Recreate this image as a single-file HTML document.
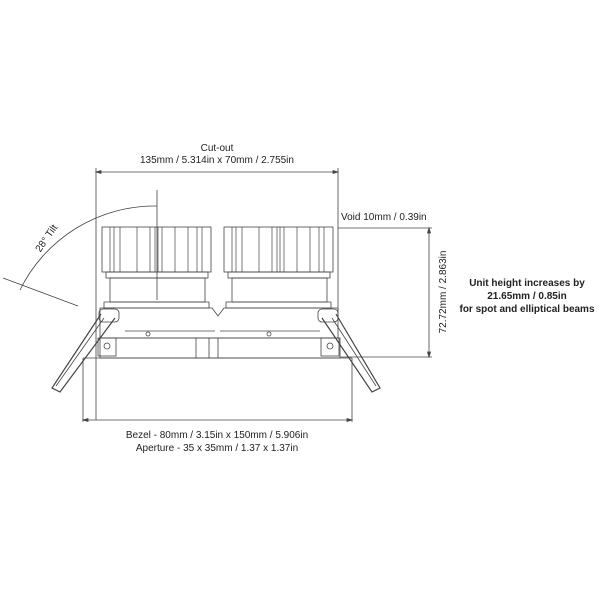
<!DOCTYPE html><html><head><style>body{margin:0;background:#fff}svg{display:block}text{font-family:"Liberation Sans",sans-serif;fill:#222}</style></head><body>
<svg width="600" height="600" viewBox="0 0 600 600" xmlns="http://www.w3.org/2000/svg">
<g stroke="#444" stroke-width="0.8" fill="none">
<line x1="96" y1="172" x2="338" y2="172"/><line x1="96" y1="168" x2="96" y2="420"/><line x1="338" y1="168" x2="338" y2="310"/>
<path d="M96 172l5-1.5v3z M338 172l-5-1.5v3z" fill="#444"/>
<line x1="338" y1="228" x2="432" y2="228"/><line x1="340" y1="357" x2="432" y2="357"/>
<line x1="429" y1="228" x2="429" y2="357"/>
<path d="M429 228l-1.5 5h3z M429 357l-1.5-5h3z" fill="#444"/>
<line x1="157" y1="190" x2="157" y2="300"/>
<path d="M157 206 A150 150 0 0 0 20 290"/>
<line x1="3" y1="278" x2="78" y2="306"/>
<line x1="83" y1="358" x2="83" y2="422"/><line x1="352" y1="358" x2="352" y2="422"/>
<line x1="83" y1="420" x2="352" y2="420"/>
<path d="M83 420l5-1.5v3z M352 420l-5-1.5v3z" fill="#444"/>
<g id="h">
<rect x="102" y="227" width="109" height="45"/>
<path d="M110 227v45M114 227v45M120 227v45M137 227v45M150 227v45M155 227v45M158 227v45M162 227v45M175 227v45M188 227v45M197 227v45M202 227v45" stroke-width="0.7"/>
<rect x="106" y="272" width="102" height="6"/>
<rect x="110" y="278" width="95" height="24"/>
<path d="M104 302h105v6H104z"/>
</g>
<use href="#h" transform="translate(122,0)"/>
<path d="M100 308h112l6 8 6-8h114v30H100z"/>
<rect x="100" y="338" width="240" height="20"/>
<line x1="83" y1="358" x2="352" y2="358"/>
<path d="M196 338v20M209 338v20M218 338v20"/>
<line x1="125" y1="331" x2="215" y2="331"/><line x1="220" y1="331" x2="320" y2="331"/>
<circle cx="148" cy="334" r="2"/><circle cx="269" cy="334" r="2"/>
<rect x="98" y="338" width="18" height="18"/><rect x="321" y="338" width="18" height="18"/>
<circle cx="107" cy="346" r="3"/><circle cx="330" cy="346" r="3"/>
<rect x="99" y="309" width="20" height="13" rx="4"/><rect x="318" y="309" width="20" height="13" rx="4"/>
<path d="M101 314 L52 388 L60 392 L115 318" stroke-width="1.2"/>
<path d="M336 314 L380 388 L372 392 L322 318" stroke-width="1.2"/>
<path d="M104 318 L56 386M332 318 L376 386"/>
</g>
<text x="217" y="151" font-size="10" text-anchor="middle">Cut-out</text>
<text x="217" y="163" font-size="10" text-anchor="middle">135mm / 5.314in x 70mm / 2.755in</text>
<text x="341" y="220" font-size="10">Void 10mm / 0.39in</text>
<text transform="translate(446,292) rotate(-90)" font-size="10" text-anchor="middle">72.72mm / 2.863in</text>
<text x="527" y="286" font-size="10" font-weight="bold" text-anchor="middle">Unit height increases by</text>
<text x="527" y="299" font-size="10" font-weight="bold" text-anchor="middle">21.65mm / 0.85in</text>
<text x="527" y="312" font-size="10" font-weight="bold" text-anchor="middle">for spot and elliptical beams</text>
<text transform="translate(49,240) rotate(-55)" font-size="10" text-anchor="middle">28° Tilt</text>
<text x="217" y="438" font-size="10" text-anchor="middle">Bezel - 80mm / 3.15in x 150mm / 5.906in</text>
<text x="217" y="451" font-size="10" text-anchor="middle">Aperture - 35 x 35mm / 1.37 x 1.37in</text>
</svg></body></html>
